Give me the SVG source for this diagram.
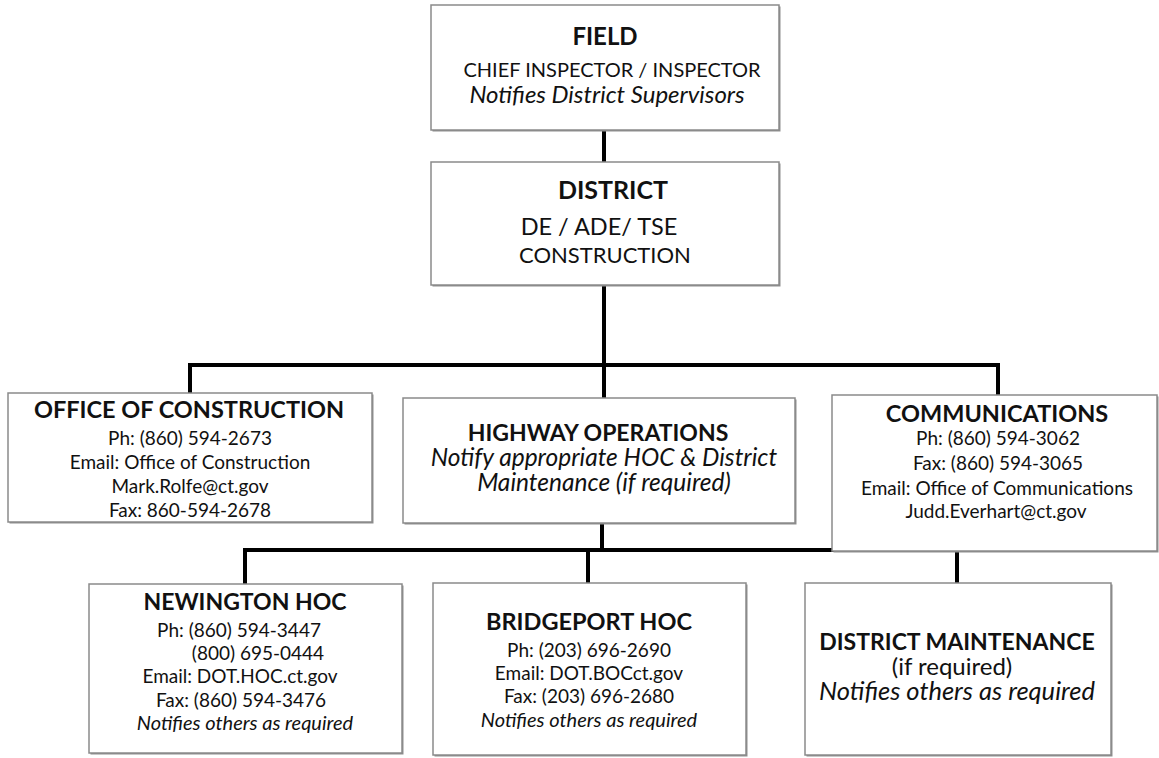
<svg xmlns="http://www.w3.org/2000/svg" width="1159" height="758" viewBox="0 0 1159 758">
  <defs>
    <style>
      .box { fill: #ffffff; stroke: #8a8a8a; stroke-width: 1.5; }
      .shadow { fill: #8f8f8f; }
      .wire { stroke: #000000; stroke-width: 4; fill: none; }
      text { font-family: Lato, "Open Sans", "Liberation Sans", sans-serif; fill: #111111; text-anchor: middle; }
      .h1 { font-size: 23.5px; font-weight: bold; }
      .h2 { font-size: 21px; }
      .hi { font-size: 24.5px; font-style: italic; }
      .t { font-size: 19px; }
      .ti { font-size: 20px; font-style: italic; }
    </style>
  </defs>

  <!-- connectors (drawn under the boxes) -->
  <g id="connectors">
    <line class="wire" x1="604" y1="130" x2="604" y2="162"/>
    <line class="wire" x1="604" y1="285" x2="604" y2="398"/>
    <polyline class="wire" points="190,393 190,365 998,365 998,395"/>
    <line class="wire" x1="602" y1="523" x2="602" y2="550"/>
    <polyline class="wire" points="245,584 245,550 957,550 957,583"/>
    <line class="wire" x1="588" y1="550" x2="588" y2="583"/>
  </g>

  <g id="field">
    <rect class="shadow" x="432.5" y="6.5" width="348" height="125"/>
    <rect class="box" x="431" y="5" width="348" height="125"/>
    <text class="h1" x="605" y="45" style="font-size:24px">FIELD</text>
    <text class="h2" x="612" y="77" style="font-size:20px">CHIEF INSPECTOR / INSPECTOR</text>
    <text class="hi" x="607" y="103" style="font-size:24px">Notifies District Supervisors</text>
  </g>

  <g id="district">
    <rect class="shadow" x="432.5" y="163.5" width="348" height="123"/>
    <rect class="box" x="431" y="162" width="348" height="123"/>
    <text class="h1" x="613" y="199" style="font-size:25px">DISTRICT</text>
    <text class="h2" x="599" y="235" style="font-size:23.5px">DE / ADE/ TSE</text>
    <text class="h2" x="605" y="263" style="font-size:22px">CONSTRUCTION</text>
  </g>

  <g id="office-of-construction">
    <rect class="shadow" x="9.5" y="394.5" width="364" height="129"/>
    <rect class="box" x="8" y="393" width="364" height="129"/>
    <text class="h1" x="189" y="418">OFFICE OF CONSTRUCTION</text>
    <text class="t" x="190" y="445">Ph: (860) 594-2673</text>
    <text class="t" x="190" y="469">Email: Office of Construction</text>
    <text class="t" x="190" y="493">Mark.Rolfe@ct.gov</text>
    <text class="t" x="190" y="517">Fax:  860-594-2678</text>
  </g>

  <g id="highway-operations">
    <rect class="shadow" x="404.5" y="399.5" width="392" height="125"/>
    <rect class="box" x="403" y="398" width="392" height="125"/>
    <text class="h1" x="598" y="441" style="font-size:23px">HIGHWAY OPERATIONS</text>
    <text class="hi" x="604" y="466">Notify appropriate HOC &amp; District</text>
    <text class="hi" x="604" y="491">Maintenance (if required)</text>
  </g>

  <g id="communications">
    <rect class="shadow" x="833.5" y="396.5" width="325" height="156"/>
    <rect class="box" x="832" y="395" width="325" height="156"/>
    <text class="h1" x="997" y="422">COMMUNICATIONS</text>
    <text class="t" x="998" y="445">Ph: (860) 594-3062</text>
    <text class="t" x="998" y="470">Fax: (860) 594-3065</text>
    <text class="t" x="997" y="495">Email:  Office of Communications</text>
    <text class="t" x="996" y="518">Judd.Everhart@ct.gov</text>
  </g>

  <g id="newington-hoc">
    <rect class="shadow" x="90.5" y="585.5" width="313" height="169"/>
    <rect class="box" x="89" y="584" width="313" height="169"/>
    <text class="h1" x="245" y="610" style="font-size:23px">NEWINGTON HOC</text>
    <text class="t" x="239" y="637">Ph: (860) 594-3447</text>
    <text class="t" x="258" y="660">(800) 695-0444</text>
    <text class="t" x="240" y="683">Email:  DOT.HOC.ct.gov</text>
    <text class="t" x="241" y="707">Fax: (860) 594-3476</text>
    <text class="ti" x="245" y="730">Notifies others as required</text>
  </g>

  <g id="bridgeport-hoc">
    <rect class="shadow" x="434.5" y="584.5" width="313" height="172"/>
    <rect class="box" x="433" y="583" width="313" height="172"/>
    <text class="h1" x="589" y="630">BRIDGEPORT HOC</text>
    <text class="t" x="589" y="657">Ph: (203) 696-2690</text>
    <text class="t" x="589" y="680">Email:  DOT.BOCct.gov</text>
    <text class="t" x="589" y="703">Fax: (203) 696-2680</text>
    <text class="ti" x="589" y="727">Notifies others as required</text>
  </g>

  <g id="district-maintenance">
    <rect class="shadow" x="806.5" y="584.5" width="306" height="172"/>
    <rect class="box" x="805" y="583" width="306" height="172"/>
    <text class="h1" x="957" y="650" style="font-size:23px">DISTRICT MAINTENANCE</text>
    <text class="h2" x="952" y="675" style="font-size:24px">(if required)</text>
    <text class="hi" x="957" y="700" style="font-size:25.5px">Notifies others as required</text>
  </g>
</svg>
